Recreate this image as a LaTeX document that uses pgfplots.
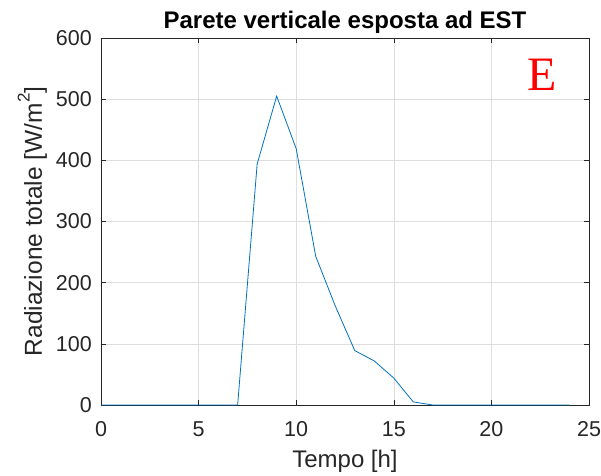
\documentclass[border=0pt]{standalone}
\usepackage{pgfplots}
\pgfplotsset{compat=1.18}
\usepackage{fontspec}
\setmainfont{Liberation Sans}
\newfontfamily\serifE{Liberation Serif}
\definecolor{mblue}{rgb}{0,0.447,0.741}
\definecolor{axgray}{rgb}{0.15,0.15,0.15}
\definecolor{gridgray}{rgb}{0.87,0.87,0.87}
\begin{document}
\begin{tikzpicture}
\useasboundingbox (-101bp,-71bp) rectangle (500bp,405bp);
\begin{axis}[
  at={(0,0)}, anchor=south west,
  scale only axis, width=488bp, height=367bp,
  xmin=0, xmax=25, ymin=0, ymax=600,
  xtick={0,5,...,25}, ytick={0,100,...,600},
  tick align=inside, major tick length=5bp,
  tick style={axgray, line width=0.6bp},
  axis line style={axgray, line width=0.7bp},
  grid=major, major grid style={gridgray, line width=0.6bp},
  /pgf/number format/assume math mode=true,
  tick label style={font=\fontsize{21.5bp}{25bp}\selectfont, text=axgray},
  xticklabel style={anchor=base, yshift=-31.5bp},
  yticklabel style={anchor=east, inner sep=0pt, xshift=-9bp},
  title={\bfseries Parete verticale esposta ad EST},
  title style={font=\fontsize{24bp}{28bp}\selectfont, at={(0.5,1)}, anchor=base, yshift=4bp},
  xlabel={Tempo [h]},
  ylabel={Radiazione totale [W/m\raisebox{0.5em}{\fontsize{17bp}{17bp}\selectfont 2}]},
  label style={font=\fontsize{24bp}{28bp}\selectfont, text=axgray},
  xlabel style={at={(0.5,0)}, anchor=base, yshift=-62bp},
  ylabel style={at={(0,0.5)}, anchor=base, yshift=59bp, font=\fontsize{24.5bp}{28bp}\selectfont},
]
\addplot[mblue, line width=0.8bp] coordinates {
(0,0)(1,0)(2,0)(3,0)(4,0)(5,0)(6,0)(7,0)(8,394)(9,505)(10,419)(11,243)(12,162)(13,89)(14,72)(15,44)(16,5)(17,0)(18,0)(19,0)(20,0)(21,0)(22,0)(23,0)(24,0)
};
\node[red, font=\serifE\fontsize{48bp}{50bp}\selectfont] at (axis cs:22.6,540) {E};
\end{axis}
\end{tikzpicture}
\end{document}
